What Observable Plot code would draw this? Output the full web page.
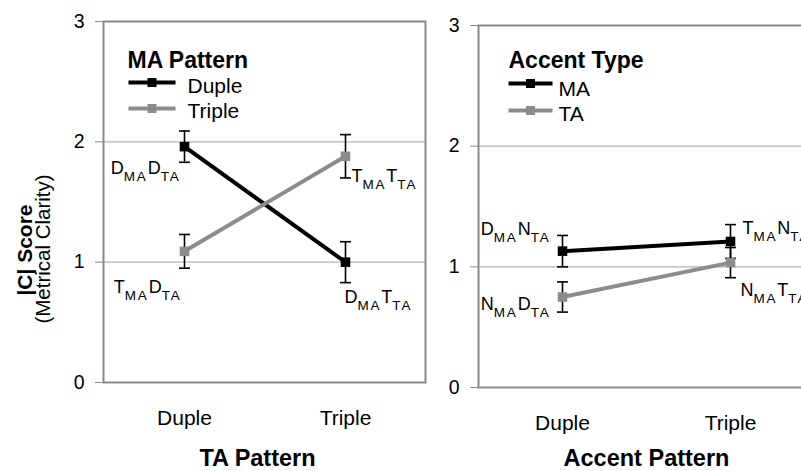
<!DOCTYPE html>
<html>
<head>
<meta charset="utf-8">
<script src="https://cdn.jsdelivr.net/npm/d3@7"></script>
<script src="https://cdn.jsdelivr.net/npm/@observablehq/plot@0.6"></script>
<style>
  html, body { margin: 0; padding: 0; background: #fff; }
  #wrap { position: relative; width: 801px; height: 471px; overflow: hidden; background: #fff; }
  #left, #right { position: absolute; top: 0; }
  #left { left: 0; width: 440px; }
  #right { left: 430px; width: 400px; }
  #wrap svg { max-width: none !important; }
</style>
</head>
<body>
<div id="wrap"><div id="left"></div><div id="right"></div></div>
<script>
// ---------- data ----------
const categories = ["Duple", "Triple"];
const yTicks = [0, 1, 2, 3];

// Left panel: x = TA Pattern, series = MA Pattern
const maPatterns = ["Duple", "Triple"];
const leftDupleMean = [1.96, 1.00];
const leftDupleErr = [0.13, 0.17];
const leftTripleMean = [1.09, 1.88];
const leftTripleErr = [0.14, 0.18];
const leftDupleLabels = ["D_{MA}D_{TA}", "D_{MA}T_{TA}"];
const leftTripleLabels = ["T_{MA}D_{TA}", "T_{MA}T_{TA}"];

// Right panel: x = Accent Pattern, series = Accent Type
const accentTypes = ["MA", "TA"];
const rightMAMean = [1.13, 1.21];
const rightMAErr = [0.13, 0.14];
const rightTAMean = [0.75, 1.035];
const rightTAErr = [0.125, 0.125];
const rightMALabels = ["D_{MA}N_{TA}", "T_{MA}N_{TA}"];
const rightTALabels = ["N_{MA}D_{TA}", "N_{MA}T_{TA}"];

// ---------- helpers ----------
const FONT = "'Liberation Sans', Arial, Helvetica, sans-serif";
const COLORS = ["#000000", "#8c8c8c"];

function rowsFor(seriesNames, means, errs, labels) {
  const rows = [];
  seriesNames.forEach((s, si) => {
    categories.forEach((c, i) => {
      rows.push({series: s, x: c, y: means[si][i], e: errs[si][i], label: labels[si][i]});
    });
  });
  return rows;
}

const capSymbol = {draw(ctx) { ctx.moveTo(-5.5, 0); ctx.lineTo(5.5, 0); }};
function legendSymbol(half) {
  return {draw(ctx) { ctx.moveTo(-half, 0); ctx.lineTo(half, 0); ctx.rect(-2.5, -2.5, 5, 5); }};
}

function subscriptify(svg) {
  svg.querySelectorAll("text").forEach((t) => {
    const s = t.textContent;
    if (!s.includes("_{")) return;
    while (t.firstChild) t.removeChild(t.firstChild);
    const re = /_\{([^}]*)\}|([^_]+)/g;
    let m, inSub = false;
    while ((m = re.exec(s))) {
      const ts = document.createElementNS("http://www.w3.org/2000/svg", "tspan");
      if (m[1] !== undefined) {
        ts.textContent = m[1];
        ts.setAttribute("font-size", "13.5");
        ts.setAttribute("letter-spacing", "1.8");
        ts.setAttribute("dy", inSub ? "0" : "7");
        inSub = true;
      } else {
        ts.textContent = m[2];
        ts.setAttribute("dy", inSub ? "-7" : "0");
        inSub = false;
      }
      t.appendChild(ts);
    }
  });
}

function panel(cfg) {
  const {rows, seriesNames, legendTitle, xTitle, width, marginLeft, marginRight, marginTop, marginBottom,
         labelSpecs, legendSpec, yLabel, xTitleDx, xTitleDy} = cfg;
  const marks = [
    Plot.ruleY(yTicks.filter((v) => v > yTicks[0] && v < yTicks[yTicks.length - 1]), {stroke: "#b4b4b4", strokeWidth: 1.2}),
    Plot.frame({stroke: "#8a8a8a", strokeWidth: 2}),
    Plot.axisY({ticks: yTicks, tickSize: 8, tickPadding: 11, fontSize: 19.5, stroke: "#8a8a8a", label: null, tickFormat: (d) => d}),
    Plot.axisX({tickSize: 0, tickPadding: 28, fontSize: 21, label: null}),
    Plot.ruleX(rows, {x: "x", y1: (d) => d.y - d.e, y2: (d) => d.y + d.e, stroke: "#000", strokeWidth: 1.6}),
    Plot.dot(rows, {x: "x", y: (d) => d.y + d.e, symbol: capSymbol, stroke: "#000", strokeWidth: 1.6}),
    Plot.dot(rows, {x: "x", y: (d) => d.y - d.e, symbol: capSymbol, stroke: "#000", strokeWidth: 1.6}),
    Plot.line(rows, {x: "x", y: "y", z: "series", stroke: "series", strokeWidth: 4}),
    Plot.dot(rows, {x: "x", y: "y", symbol: "square", fill: "series", r: 5.4}),
    ...labelSpecs.map((sp) => Plot.text(rows.filter((d) => d.series === seriesNames[sp.s] && d.x === categories[sp.i]), {
      x: "x", y: "y", text: "label", textAnchor: sp.anchor, dx: sp.dx, dy: sp.dy, fontSize: 18, fill: "#000"
    })),
    // x axis title
    Plot.text([xTitle], {frameAnchor: "bottom", text: (d) => d, textAnchor: "middle", dx: xTitleDx, dy: xTitleDy, lineAnchor: "bottom", fontSize: 23.5, fontWeight: "bold", fill: "#000"}),
    // legend
    Plot.text([legendTitle], {frameAnchor: "top-left", text: (d) => d, textAnchor: "start", lineAnchor: "bottom", dx: legendSpec.titleDx, dy: legendSpec.titleDy, fontSize: 23, fontWeight: "bold", fill: "#000"}),
    ...seriesNames.map((s, k) => Plot.dot([s], {frameAnchor: "top-left", dx: legendSpec.symDx, dy: legendSpec.symDy[k],
      symbol: legendSymbol(legendSpec.half), fill: COLORS[k], stroke: COLORS[k], strokeWidth: 4})),
    ...seriesNames.map((s, k) => Plot.text([s], {frameAnchor: "top-left", text: (d) => d, textAnchor: "start", lineAnchor: "bottom",
      dx: legendSpec.textDx, dy: legendSpec.textDy[k], fontSize: 21, fill: "#000"}))
  ];
  if (yLabel) {
    marks.push(Plot.text([yLabel[0]], {frameAnchor: "left", text: (d) => d, rotate: -90, textAnchor: "middle", lineAnchor: "middle", dx: -78, dy: 48, fontSize: 21, fontWeight: "bold", fill: "#000"}));
    marks.push(Plot.text([yLabel[1]], {frameAnchor: "left", text: (d) => d, rotate: -90, textAnchor: "middle", lineAnchor: "middle", dx: -60, dy: 47, fontSize: 20.5, fill: "#000"}));
  }
  const svg = Plot.plot({
    width, height: 471, marginLeft, marginRight, marginTop, marginBottom,
    style: {fontFamily: FONT, fontSize: "19px", background: "transparent", color: "#000", overflow: "visible", maxWidth: "none"},
    x: {type: "point", domain: categories, padding: 0.5},
    y: {domain: [yTicks[0], yTicks[yTicks.length - 1]]},
    color: {domain: seriesNames, range: COLORS},
    marks
  });
  subscriptify(svg);
  return svg;
}

const leftRows = rowsFor(maPatterns, [leftDupleMean, leftTripleMean], [leftDupleErr, leftTripleErr], [leftDupleLabels, leftTripleLabels]);
const rightRows = rowsFor(accentTypes, [rightMAMean, rightTAMean], [rightMAErr, rightTAErr], [rightMALabels, rightTALabels]);

document.getElementById("left").appendChild(panel({
  rows: leftRows, seriesNames: maPatterns, legendTitle: "MA Pattern", xTitle: "TA Pattern",
  width: 440, marginLeft: 103, marginRight: 15, marginTop: 21, marginBottom: 89,
  xTitleDx: -7, xTitleDy: 83,
  yLabel: ["|C| Score", "(Metrical Clarity)"],
  labelSpecs: [
    {s: 0, i: 0, anchor: "end", dx: -4, dy: 22},
    {s: 0, i: 1, anchor: "start", dx: -1, dy: 35},
    {s: 1, i: 0, anchor: "end", dx: -3, dy: 36},
    {s: 1, i: 1, anchor: "start", dx: 6, dy: 20}
  ],
  legendSpec: {titleDx: 24, titleDy: 46, symDx: 48.5, symDy: [61, 87], half: 23.5, textDx: 84, textDy: [71, 96]}
}));

document.getElementById("right").appendChild(panel({
  rows: rightRows, seriesNames: accentTypes, legendTitle: "Accent Type", xTitle: "Accent Pattern",
  width: 400, marginLeft: 48, marginRight: 16, marginTop: 25, marginBottom: 84,
  xTitleDx: 0, xTitleDy: 78,
  yLabel: null,
  labelSpecs: [
    {s: 0, i: 0, anchor: "end", dx: -12, dy: -22},
    {s: 0, i: 1, anchor: "start", dx: 12, dy: -13},
    {s: 1, i: 0, anchor: "end", dx: -12, dy: 7},
    {s: 1, i: 1, anchor: "start", dx: 10, dy: 28}
  ],
  legendSpec: {titleDx: 30, titleDy: 42, symDx: 52, symDy: [58, 85], half: 22, textDx: 80, textDy: [70, 95]}
}));
</script>
</body>
</html>
